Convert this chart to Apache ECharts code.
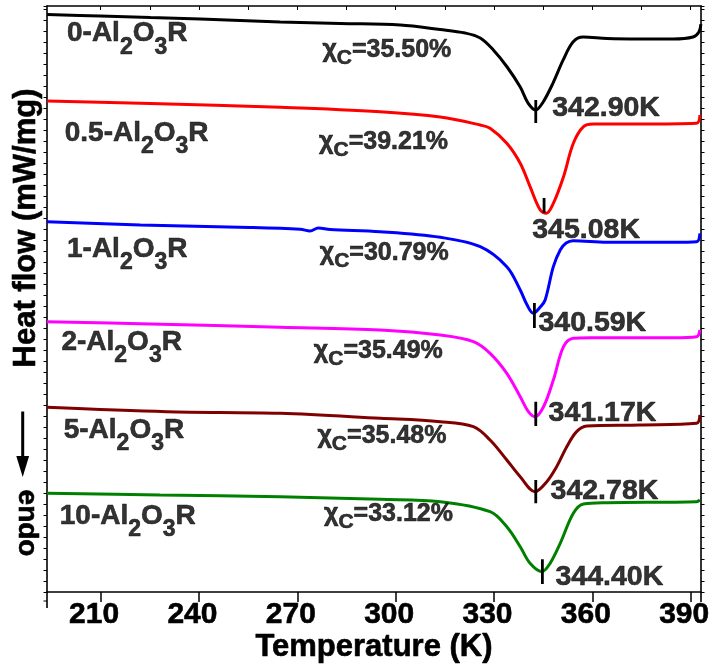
<!DOCTYPE html>
<html><head><meta charset="utf-8">
<script src="https://cdn.jsdelivr.net/npm/echarts@6/dist/echarts.min.js"></script>
<style>html,body{margin:0;padding:0;background:#fff}#c{width:712px;height:665px}</style>
</head><body><div id="c"></div>
<script>
const FONT = '"Liberation Sans", Arial, Helvetica, sans-serif';

// ---- data (temperature K, heat flow in offset arbitrary units) ----
const sampleNames = ['0-Al2O3R', '0.5-Al2O3R', '1-Al2O3R', '2-Al2O3R', '5-Al2O3R', '10-Al2O3R'];
const crystallinity = ['35.50', '39.21', '30.79', '35.49', '35.48', '33.12'];
const peakLabels = ['342.90K', '345.08K', '340.59K', '341.17K', '342.78K', '344.40K'];
const seriesColors = ['#000000', '#ff0000', '#0000ff', '#ff00ff', '#800000', '#008000'];

const tempS0 = [193.7, 209.9, 225.2, 240.4, 264.8, 283.1, 301.4, 313.6, 321.2, 325.8, 329.8, 334.0, 338.0, 340.4, 342.7, 345.0, 348.0, 351.1, 354.1, 357.2, 364.5, 374.5, 384.6, 390.7, 392.5, 393.1];
const flowS0 = [52.55, 52.41, 52.27, 52.14, 51.87, 51.73, 51.59, 51.18, 50.86, 50.41, 49.32, 47.77, 45.95, 44.49, 43.86, 44.59, 46.31, 48.41, 50.05, 50.50, 50.36, 50.32, 50.32, 50.50, 50.96, 51.68];

const tempS1 = [193.7, 225.2, 264.8, 295.3, 313.6, 325.8, 328.8, 333.9, 338.0, 341.0, 344.1, 345.9, 348.1, 351.2, 354.2, 357.3, 360.3, 374.5, 391.8, 392.8];
const flowS1 = [44.68, 44.45, 44.10, 43.70, 43.22, 42.49, 42.19, 40.83, 39.01, 36.88, 34.76, 34.46, 35.37, 37.79, 40.83, 42.34, 42.58, 42.58, 42.65, 43.40];

const tempS2 = [193.6, 222.1, 255.6, 270.9, 273.9, 276.4, 280.0, 295.3, 313.6, 325.8, 333.9, 338.0, 340.1, 342.0, 344.1, 345.6, 348.1, 350.2, 352.0, 354.2, 364.4, 384.7, 391.8, 392.8];
const flowS2 = [33.69, 33.39, 33.17, 33.00, 32.85, 33.12, 32.98, 32.78, 32.27, 31.42, 29.60, 27.48, 26.11, 25.36, 25.93, 26.57, 29.60, 31.12, 31.76, 31.97, 31.82, 31.82, 31.87, 32.64];

const tempS3 = [193.6, 225.2, 264.8, 295.3, 313.6, 323.7, 328.8, 333.9, 338.0, 340.5, 342.5, 345.1, 348.1, 351.2, 354.2, 359.3, 384.7, 391.8, 392.8];
const flowS3 = [24.59, 24.39, 24.09, 23.84, 23.38, 22.78, 21.72, 19.90, 17.77, 16.41, 15.95, 16.86, 19.29, 22.32, 23.08, 23.14, 23.14, 23.23, 23.84];

const tempS4 = [193.6, 230.2, 264.8, 295.3, 313.6, 323.7, 328.8, 333.9, 338.0, 342.5, 346.1, 349.1, 352.2, 355.2, 358.3, 374.5, 391.8, 392.8];
const flowS4 = [16.81, 16.41, 16.26, 15.81, 15.50, 15.04, 13.83, 12.01, 10.49, 9.13, 10.04, 11.40, 13.22, 14.59, 15.10, 15.20, 15.35, 16.11];

const tempS5 = [193.6, 228.1, 264.8, 295.3, 313.6, 328.8, 333.9, 338.0, 341.0, 344.6, 347.1, 350.2, 354.2, 357.3, 364.4, 391.8, 392.8];
const flowS5 = [8.98, 8.83, 8.67, 8.43, 8.22, 7.31, 5.94, 4.12, 2.61, 1.85, 2.61, 4.43, 7.16, 8.01, 8.13, 8.22, 8.37];

// peak marks (temperature, upper and lower heat-flow ends)
const peakMarkT = [342.74, 345.27, 342.32, 342.74, 342.74, 344.76];
const peakMarkHi = [44.77, 35.85, 26.30, 17.32, 10.19, 2.98];
const peakMarkLo = [42.68, 34.49, 24.02, 15.10, 8.07, 0.73];

// annotation anchors (temperature, heat flow)
const sampleLabelT = [199.6, 198.9, 199.6, 197.9, 198.6, 197.4];
const sampleLabelV = [50.80, 41.77, 31.16, 22.70, 14.74, 6.92];
const chiLabelT = [277.5, 276.5, 276.7, 274.9, 276.0, 278.0];
const chiLabelV = [49.34, 40.97, 30.85, 21.93, 14.19, 7.10];
const peakLabelT = [347.6, 341.5, 343.4, 346.5, 347.1, 348.6];
const peakLabelV = [44.04, 32.94, 24.45, 16.31, 9.22, 1.39];

// axes
const xMin = 193.65, xMax = 393.14;
const yMin = 0, yMax = 53.32;
const xTickValues = [210, 240, 270, 300, 330, 360, 390];
const topTickValues = [210, 225, 240, 255, 270, 285, 300, 315, 330, 345, 360, 375, 390];

const temps = [tempS0, tempS1, tempS2, tempS3, tempS4, tempS5];
const flows = [flowS0, flowS1, flowS2, flowS3, flowS4, flowS5];

const series = [];
temps.forEach((t, i) => {
  series.push({
    type: 'line', name: sampleNames[i], xAxisIndex: 0, yAxisIndex: 0,
    data: t.map((x, k) => [x, flows[i][k]]),
    showSymbol: false, smooth: 0.35, silent: true,
    lineStyle: { color: seriesColors[i], width: 3 }, z: 3
  });
});
peakMarkT.forEach((t, i) => {
  series.push({
    type: 'line', xAxisIndex: 0, yAxisIndex: 0, silent: true, showSymbol: false,
    data: [[t, peakMarkHi[i]], [t, peakMarkLo[i]]],
    lineStyle: { color: '#000', width: 2.8 }, z: 4
  });
});

const subName = s => s.replace('Al2O3', 'Al{s|2}O{s|3}');
const heavy = { textBorderColor: '#000', textBorderWidth: 0.6 };
const labelBase = Object.assign({ show: true, position: 'right', distance: 0, color: '#000', fontFamily: FONT, fontWeight: 'bold' }, heavy);

series.push({
  type: 'scatter', xAxisIndex: 0, yAxisIndex: 0, symbolSize: 1, silent: true,
  itemStyle: { color: 'rgba(0,0,0,0)' },
  data: sampleNames.map((n, i) => ({ value: [sampleLabelT[i], sampleLabelV[i]], label: { formatter: subName(n) } })),
  label: Object.assign({}, labelBase, {
    fontSize: 28, lineHeight: 28,
    rich: { s: Object.assign({ fontSize: 23, lineHeight: 23, fontWeight: 'bold', fontFamily: FONT, color: '#000', padding: [27, 0, 0, 0] }, heavy) }
  }), z: 5
});
series.push({
  type: 'scatter', xAxisIndex: 0, yAxisIndex: 0, symbolSize: 1, silent: true,
  itemStyle: { color: 'rgba(0,0,0,0)' },
  data: crystallinity.map((c, i) => ({ value: [chiLabelT[i], chiLabelV[i]], label: { formatter: 'χ{c|C}=' + c + '%' } })),
  label: Object.assign({}, labelBase, {
    fontSize: 25, lineHeight: 25,
    rich: { c: Object.assign({ fontSize: 21, lineHeight: 21, fontWeight: 'bold', fontFamily: FONT, color: '#000', padding: [16, 0, 0, 0] }, heavy) }
  }), z: 5
});
series.push({
  type: 'scatter', xAxisIndex: 0, yAxisIndex: 0, symbolSize: 1, silent: true,
  itemStyle: { color: 'rgba(0,0,0,0)' },
  data: peakLabels.map((p, i) => ({ value: [peakLabelT[i], peakLabelV[i]], label: { formatter: p } })),
  label: Object.assign({}, labelBase, { fontSize: 28.5 }), z: 5
});

const axisLineStyle = { color: '#000', width: 1.6 };
const chart = echarts.init(document.getElementById('c'), null, { renderer: 'canvas' });
chart.setOption({
  animation: false,
  backgroundColor: '#fff',
  grid: { left: 47, right: 11, top: 6, bottom: 73, containLabel: false, outerBoundsMode: 'none' },
  xAxis: [
    {
      type: 'value', min: xMin, max: xMax, position: 'bottom', splitNumber: 6,
      axisLine: { show: true, onZero: false, lineStyle: axisLineStyle },
      axisTick: { show: true, customValues: xTickValues, inside: false, length: 10, lineStyle: { color: '#000', width: 1.5 } },
      axisLabel: Object.assign({
        show: true, customValues: xTickValues, margin: 8, padding: [0, 13, 0, 0],
        color: '#000', fontFamily: FONT, fontWeight: 'bold', fontSize: 30,
        formatter: v => (Math.abs(v % 30) < 1e-6 ? String(v) : '')
      }, heavy),
      splitLine: { show: false },
      name: 'Temperature (K)', nameLocation: 'middle', nameGap: 40, nameMoveOverlap: false,
      nameTextStyle: Object.assign({ color: '#000', fontFamily: FONT, fontWeight: 'bold', fontSize: 31 }, heavy)
    },
    {
      type: 'value', min: xMin, max: xMax, position: 'top', splitNumber: 6,
      axisLine: { show: true, onZero: false, lineStyle: axisLineStyle },
      axisTick: { show: true, customValues: topTickValues, inside: true, length: 4, lineStyle: { color: '#000', width: 1 } },
      axisLabel: { show: false }, splitLine: { show: false }
    }
  ],
  yAxis: [
    {
      type: 'value', min: yMin, max: yMax, interval: 1, position: 'left',
      axisLine: { show: true, onZero: false, lineStyle: axisLineStyle },
      axisTick: { show: true, inside: false, length: 3.5, lineStyle: { color: '#000', width: 1 } },
      axisLabel: { show: false }, splitLine: { show: false }
    },
    {
      type: 'value', min: yMin, max: yMax, interval: 1, position: 'right',
      axisLine: { show: true, onZero: false, lineStyle: axisLineStyle },
      axisTick: { show: true, inside: false, length: 3.5, lineStyle: { color: '#000', width: 1 } },
      axisLabel: { show: false }, splitLine: { show: false }
    }
  ],
  graphic: [
    {
      type: 'text', x: 26, y: 228, rotation: Math.PI / 2, silent: true,
      style: { text: 'Heat flow (mW/mg)', fill: '#000', stroke: '#000', lineWidth: 0.6, font: 'bold 31px ' + FONT, align: 'center', verticalAlign: 'middle', textAlign: 'center', textVerticalAlign: 'middle' }
    },
    {
      type: 'text', x: 26.5, y: 523, rotation: -Math.PI / 2, silent: true,
      style: { text: 'endo', fill: '#000', stroke: '#000', lineWidth: 0.6, font: 'bold 28px ' + FONT, align: 'center', verticalAlign: 'middle', textAlign: 'center', textVerticalAlign: 'middle' }
    },
    { type: 'line', silent: true, shape: { x1: 22.7, y1: 411.5, x2: 22.7, y2: 460 }, style: { stroke: '#000', lineWidth: 3 } },
    { type: 'polygon', silent: true, shape: { points: [[16.3, 456], [29.1, 456], [22.7, 477]] }, style: { fill: '#000' } },
    // frame lines extending slightly below the bottom axis, as in the original
    { type: 'line', silent: true, shape: { x1: 47, y1: 592, x2: 47, y2: 608 }, style: { stroke: '#000', lineWidth: 1.6 } },
    { type: 'line', silent: true, shape: { x1: 43.5, y1: 601, x2: 47, y2: 601 }, style: { stroke: '#000', lineWidth: 1 } },
    { type: 'line', silent: true, shape: { x1: 701, y1: 592, x2: 701, y2: 602 }, style: { stroke: '#000', lineWidth: 1.6 } }
  ],
  series: series
});
</script>
</body></html>
